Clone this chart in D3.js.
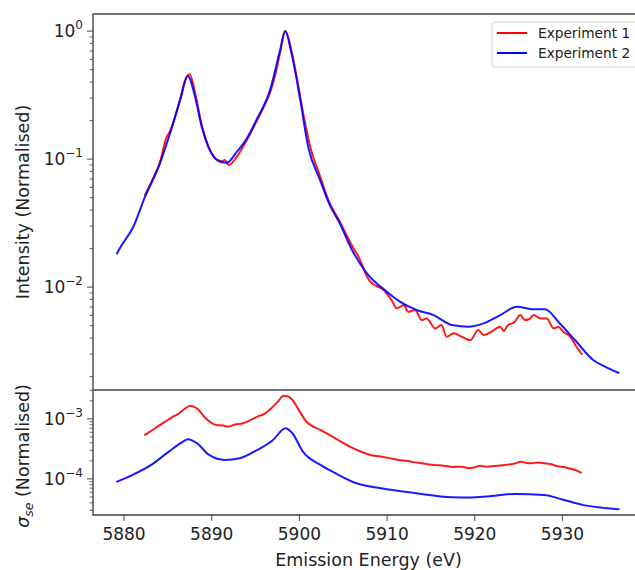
<!DOCTYPE html>
<html>
<head>
<meta charset="utf-8">
<script src="https://cdn.jsdelivr.net/npm/d3@7"></script>
<style>
  html, body { margin: 0; padding: 0; background: #fff; }
  svg { display: block; font-family: "DejaVu Sans", sans-serif; }
</style>
</head>
<body>
<div id="root"></div>
<script>
// Experiment 1 (red), normalised intensity
const exp1Energy = [5882.4, 5883.2, 5884.1, 5884.8, 5885.25, 5886.4, 5887.0, 5887.5, 5888.1, 5888.86, 5889.6, 5890.5,
  5891.2, 5891.5, 5891.95, 5892.6, 5893.5, 5894.0, 5895.1, 5896.0, 5896.65, 5897.3, 5897.8, 5898.4, 5899.1, 5899.8,
  5900.5, 5901.2, 5902.4, 5903.3, 5904.6, 5905.5, 5906.0, 5906.8, 5907.7, 5908.1, 5909.6, 5910.5, 5911.1, 5911.9,
  5912.4, 5913.2, 5913.96, 5914.5, 5915.5, 5916.2, 5916.8, 5917.6, 5918.5, 5919.5, 5920.4, 5921.0, 5921.9, 5922.9,
  5923.3, 5923.8, 5924.5, 5925.2, 5925.7, 5926.2, 5926.7, 5927.5, 5928.2, 5929.0, 5929.5, 5930.1, 5930.9, 5931.6, 5932.2];
const exp1Intensity = [0.0524, 0.068, 0.095, 0.145, 0.165, 0.295, 0.42, 0.46, 0.33, 0.185, 0.127, 0.100,
  0.096, 0.0985, 0.0898, 0.0985, 0.122, 0.140, 0.196, 0.262, 0.33, 0.47, 0.68, 1.0, 0.70, 0.40,
  0.215, 0.128, 0.072, 0.048, 0.0325, 0.0245, 0.021, 0.017, 0.0121, 0.011, 0.00948, 0.00794, 0.00682, 0.00724,
  0.00641, 0.00661, 0.00552, 0.00569, 0.00475, 0.00505, 0.00409, 0.00435, 0.0041, 0.00385, 0.00461, 0.00422, 0.00448, 0.0049,
  0.00455, 0.00505, 0.0053, 0.00604, 0.00552, 0.0056, 0.00604, 0.00569, 0.00569, 0.00475, 0.0049, 0.00448, 0.00409, 0.00342, 0.003];

// Experiment 2 (blue), normalised intensity
const exp2Energy = [5879.2, 5879.5, 5881.06, 5882.4, 5884.1, 5885.25, 5886.4, 5887.27, 5888.1, 5888.86, 5889.6, 5890.95,
  5891.7, 5892.86, 5894.0, 5895.1, 5896.65, 5897.8, 5898.37, 5899.1, 5900.1, 5901.0, 5902.36, 5903.4, 5904.6, 5906.0,
  5907.7, 5909.97, 5911.5, 5913.4, 5915.3, 5917.4, 5919.3, 5921.0, 5922.9, 5924.8, 5926.7, 5928.0, 5929.7, 5931.6,
  5933.5, 5934.9, 5936.4];
const exp2Intensity = [0.0183, 0.02, 0.0296, 0.0508, 0.0925, 0.159, 0.289, 0.445, 0.307, 0.179, 0.125, 0.0953,
  0.0935, 0.114, 0.145, 0.202, 0.346, 0.711, 1.0, 0.67, 0.289, 0.125, 0.0686, 0.0447, 0.0315, 0.0195,
  0.0128, 0.0092, 0.00767, 0.00661, 0.00604, 0.00505, 0.0049, 0.0052, 0.00604, 0.00701, 0.0067, 0.0067, 0.0052, 0.00374,
  0.00269, 0.00238, 0.00214];

// standard error, Experiment 1
const exp1SigmaEnergy = [5882.4, 5883.5, 5884.7, 5885.5, 5886.3, 5887.0, 5887.5, 5888.3, 5889.3, 5890.5, 5891.3, 5891.9,
  5892.6, 5893.55, 5894.4, 5895.2, 5896.0, 5896.8, 5897.5, 5898.2, 5898.7, 5899.2, 5900.0, 5900.8, 5902.4, 5904.1,
  5906.1, 5908.1, 5909.5, 5910.4, 5911.3, 5912.2, 5913.0, 5914.2, 5915.4, 5916.5, 5917.5, 5918.5, 5919.4, 5920.0, 5920.6,
  5921.3, 5922.0, 5922.7, 5923.4, 5924.4, 5925.3, 5925.9, 5926.5, 5927.2, 5927.9, 5928.7, 5929.5, 5930.1, 5930.7, 5931.4, 5932.1];
const exp1Sigma = [5.41e-4, 6.92e-4, 9.04e-4, 1.07e-3, 1.245e-3, 1.51e-3, 1.65e-3, 1.51e-3, 1.03e-3, 7.94e-4, 7.76e-4, 7.45e-4,
  8.03e-4, 8.47e-4, 9.55e-4, 1.09e-3, 1.22e-3, 1.51e-3, 1.91e-3, 2.44e-3, 2.37e-3, 2.07e-3, 1.35e-3, 9.04e-4, 6.56e-4, 4.76e-4,
  3.25e-4, 2.51e-4, 2.32e-4, 2.2e-4, 2.07e-4, 2.0e-4, 1.905e-4, 1.8e-4, 1.71e-4, 1.66e-4, 1.585e-4, 1.6e-4, 1.51e-4, 1.57e-4, 1.65e-4,
  1.6e-4, 1.62e-4, 1.66e-4, 1.71e-4, 1.78e-4, 1.94e-4, 1.84e-4, 1.82e-4, 1.88e-4, 1.83e-4, 1.75e-4, 1.62e-4, 1.58e-4, 1.51e-4, 1.42e-4, 1.27e-4];

// standard error, Experiment 2
const exp2SigmaEnergy = [5879.2, 5881.0, 5883.1, 5885.1, 5886.5, 5887.3, 5888.3, 5889.7, 5891.5, 5893.2, 5895.2, 5897.0,
  5898.4, 5899.2, 5900.4, 5902.4, 5904.1, 5906.5, 5909.3, 5913.3, 5917.4, 5919.4, 5921.4, 5924.6, 5927.9, 5929.9,
  5932.3, 5934.3, 5936.4];
const exp2Sigma = [9.0e-5, 1.17e-4, 1.71e-4, 2.85e-4, 3.98e-4, 4.58e-4, 3.94e-4, 2.51e-4, 2.07e-4, 2.21e-4, 3.04e-4, 4.47e-4,
  7.0e-4, 5.78e-4, 2.85e-4, 1.71e-4, 1.245e-4, 8.47e-5, 7.0e-5, 5.78e-5, 4.95e-5, 4.89e-5, 5.07e-5, 5.62e-5, 5.41e-5, 4.59e-5,
  3.69e-5, 3.33e-5, 3.13e-5];

const xTicks = [5880, 5890, 5900, 5910, 5920, 5930];
const topDecades = [0, -1, -2];
const bottomDecades = [-3, -4];
const legendLabels = ["Experiment 1", "Experiment 2"];
const colors = ["red", "blue"];

const width = 635;
const height = 570;
const left = 93;
const right = 644;
const topY = 14;
const midY = 390;
const bottomY = 515;
const axisColor = "#444";
const tickFont = 17;

const svg = d3.select("#root")
  .append("svg")
  .attr("width", width)
  .attr("height", height)
  .attr("viewBox", `0 0 ${width} ${height}`);

const xScale = d3.scaleLinear().domain([5876.46, 5939.3]).range([left, right]);
const yTop = d3.scaleLog().domain([1.57e-3, 1.36]).range([midY, topY]);
const yBottom = d3.scaleLog().domain([2.5e-5, 3.04e-3]).range([bottomY, midY]);

function zip(xs, ys) {
  return xs.map((x, i) => ({ x, y: ys[i] }));
}

function drawLine(data, yScale, color) {
  const line = d3.line()
    .x((d) => xScale(d.x))
    .y((d) => yScale(d.y))
    .curve(d3.curveMonotoneX);
  svg.append("path")
    .datum(data)
    .attr("d", line)
    .attr("fill", "none")
    .attr("stroke", color)
    .attr("stroke-width", 2)
    .attr("stroke-linejoin", "round")
    .attr("stroke-linecap", "round")
    .attr("opacity", 0.9);
}

function drawLogAxis(yScale, decades) {
  const [lo, hi] = yScale.domain();
  const minor = [];
  for (let e = Math.floor(Math.log10(lo)); e <= Math.ceil(Math.log10(hi)); e++) {
    for (let m = 2; m <= 9; m++) {
      const v = m * Math.pow(10, e);
      if (v >= lo && v <= hi) minor.push(v);
    }
  }
  svg.append("g")
    .selectAll("line")
    .data(minor)
    .join("line")
    .attr("x1", left - 3.5)
    .attr("x2", left)
    .attr("y1", (d) => yScale(d))
    .attr("y2", (d) => yScale(d))
    .attr("stroke", axisColor)
    .attr("stroke-width", 0.8);

  const major = svg.append("g")
    .selectAll("g")
    .data(decades)
    .join("g")
    .attr("transform", (d) => `translate(0, ${yScale(Math.pow(10, d))})`);
  major.append("line")
    .attr("x1", left - 6)
    .attr("x2", left)
    .attr("stroke", axisColor)
    .attr("stroke-width", 1);
  const label = major.append("text")
    .attr("x", left - 10)
    .attr("y", 6)
    .attr("text-anchor", "end")
    .attr("fill", "#222")
    .attr("font-size", tickFont);
  label.append("tspan").text("10");
  label.append("tspan")
    .attr("dy", -8)
    .attr("font-size", 12)
    .text((d) => (d < 0 ? "\u2212" + -d : d));
}

// curves
drawLine(zip(exp1Energy, exp1Intensity), yTop, colors[0]);
drawLine(zip(exp2Energy, exp2Intensity), yTop, colors[1]);
drawLine(zip(exp1SigmaEnergy, exp1Sigma), yBottom, colors[0]);
drawLine(zip(exp2SigmaEnergy, exp2Sigma), yBottom, colors[1]);

// spines
svg.append("path")
  .attr("d", `M${right},${topY}H${left}V${bottomY}H${right}M${left},${midY}H${right}`)
  .attr("fill", "none")
  .attr("stroke", axisColor)
  .attr("stroke-width", 1.4);

drawLogAxis(yTop, topDecades);
drawLogAxis(yBottom, bottomDecades);

// x axis
const xt = svg.append("g")
  .selectAll("g")
  .data(xTicks)
  .join("g")
  .attr("transform", (d) => `translate(${xScale(d)}, ${bottomY})`);
xt.append("line")
  .attr("y2", 6)
  .attr("stroke", axisColor)
  .attr("stroke-width", 1);
xt.append("text")
  .attr("y", 25)
  .attr("text-anchor", "middle")
  .attr("fill", "#222")
  .attr("font-size", tickFont)
  .text((d) => d);

// axis titles
svg.append("text")
  .attr("x", (left + right) / 2)
  .attr("y", 566)
  .attr("text-anchor", "middle")
  .attr("fill", "#222")
  .attr("font-size", 17.5)
  .text("Emission Energy (eV)");

svg.append("text")
  .attr("transform", `translate(29, ${(topY + midY) / 2}) rotate(-90)`)
  .attr("text-anchor", "middle")
  .attr("fill", "#222")
  .attr("font-size", 17.5)
  .text("Intensity (Normalised)");

const sigmaLabel = svg.append("text")
  .attr("transform", `translate(29, 456) rotate(-90)`)
  .attr("text-anchor", "middle")
  .attr("fill", "#222")
  .attr("font-size", 17.5);
sigmaLabel.append("tspan").attr("font-style", "italic").text("\u03c3");
sigmaLabel.append("tspan").attr("font-style", "italic").attr("font-size", 12.5).attr("dy", 4).text("se");
sigmaLabel.append("tspan").attr("dy", -4).text(" (Normalised)");

// legend
const legend = svg.append("g");
legend.append("rect")
  .attr("x", 492)
  .attr("y", 22)
  .attr("width", 160)
  .attr("height", 45)
  .attr("rx", 3)
  .attr("fill", "#fff")
  .attr("fill-opacity", 0.8)
  .attr("stroke", "#d5d5d5");
const items = legend.selectAll("g")
  .data(legendLabels)
  .join("g")
  .attr("transform", (d, i) => `translate(0, ${33 + i * 20})`);
items.append("line")
  .attr("x1", 497)
  .attr("x2", 527)
  .attr("stroke", (d, i) => colors[i])
  .attr("stroke-width", 2);
items.append("text")
  .attr("x", 538)
  .attr("y", 5)
  .attr("fill", "#222")
  .attr("font-size", 13.7)
  .text((d) => d);
</script>
</body>
</html>
